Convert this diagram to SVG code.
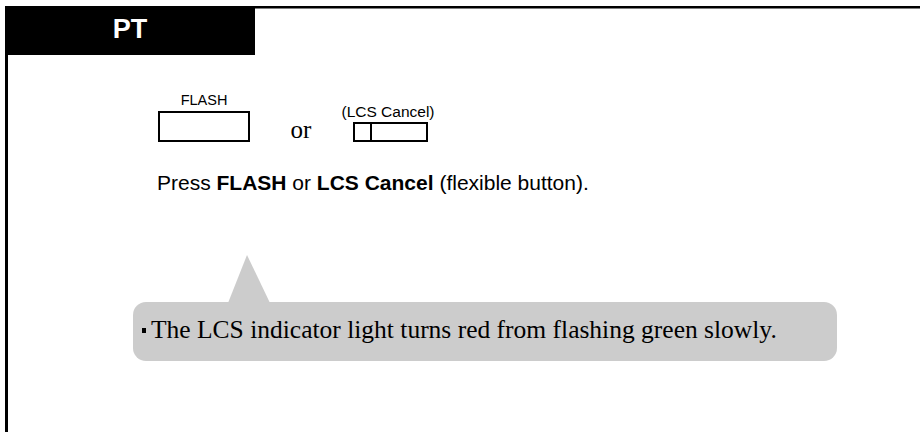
<svg xmlns="http://www.w3.org/2000/svg" width="920" height="432" viewBox="0 0 920 432">
<style>
.sans{font-family:"Liberation Sans",Arial,sans-serif;fill:#000}
.serif{font-family:"Liberation Serif","Times New Roman",serif;fill:#000}
.btn{fill:#fff;stroke:#000;stroke-width:2}
</style>
<rect width="920" height="432" fill="#fff"/>
<g id="frame">
<rect x="5" y="6" width="3" height="426" fill="#000"/>
<rect x="7" y="6" width="913" height="2.5" fill="#000"/>
<rect x="7" y="6" width="248" height="49" fill="#000"/>
<text x="130" y="38" class="sans" font-size="27" font-weight="bold" style="fill:#fff" text-anchor="middle">PT</text>
</g>
<g id="flash-button">
<text x="204" y="105" class="sans" font-size="14.5" text-anchor="middle">FLASH</text>
<rect x="159" y="112" width="90" height="29" class="btn"/>
</g>
<text id="or" x="301" y="138" class="serif" font-size="25" text-anchor="middle">or</text>
<g id="lcs-button">
<text x="388" y="117" class="sans" font-size="15.5" text-anchor="middle">(LCS Cancel)</text>
<rect x="354" y="123" width="73" height="18" class="btn"/>
<line x1="371" y1="123" x2="371" y2="141" stroke="#000" stroke-width="2"/>
</g>
<text id="instruction" x="157" y="190" class="sans" font-size="21">Press <tspan font-weight="bold">FLASH</tspan> or <tspan font-weight="bold">LCS Cancel</tspan> (flexible button).</text>
<g id="callout">
<rect x="133" y="302" width="704" height="59" rx="13" fill="#ccc"/>
<polygon points="228,303 247,255 270,303" fill="#ccc"/>
<rect x="142" y="328" width="4" height="5" fill="#000"/>
<text x="151" y="338" class="serif" font-size="25.5">The LCS indicator light turns red from flashing green slowly.</text>
</g>
</svg>
